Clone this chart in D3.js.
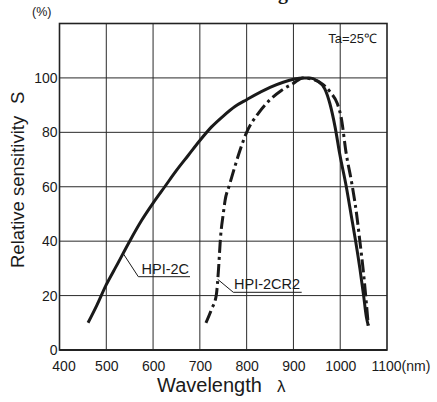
<!DOCTYPE html>
<html lang="en">
<head>
  <meta charset="UTF-8">
  <title>Relative sensitivity vs wavelength</title>
  <script src="https://cdn.jsdelivr.net/npm/d3@7/dist/d3.min.js"></script>
</head>
<style>
  body { margin: 0; background: #fff; }
  text { font-family: "Liberation Sans", Arial, sans-serif; fill: #1a1a1a; }
</style>
<body>
  <svg width="437" height="402"></svg>
</body>
<script>
  // data
  const wlTicks = [400, 500, 600, 700, 800, 900, 1000, 1100];
  const sensTicks = [0, 20, 40, 60, 80, 100];

  const hpi2cWl = [461, 480, 500, 522, 550, 575, 600, 625, 650, 675, 700, 725, 750, 775, 800, 850, 900, 920, 935, 950, 967, 978, 989, 999, 1013, 1024, 1033, 1042, 1050, 1056, 1060];
  const hpi2cS  = [10, 16.5, 24, 31, 40, 47.5, 54, 60, 66, 71.5, 77, 82, 86, 89.5, 92, 96.5, 99.5, 100, 100, 99, 96, 90.5, 82, 72, 60, 49, 40, 30, 20, 12, 9];

  const hpi2cr2Wl = [713, 725, 735, 740, 744, 750, 754, 763, 775, 786, 800, 825, 850, 875, 900, 920, 940, 960, 980, 994, 1002, 1013, 1024, 1035, 1042, 1050, 1056, 1060];
  const hpi2cr2S  = [10, 15, 20, 30, 41, 50, 55, 60.5, 67.5, 73.5, 80, 87, 92, 95.5, 98, 100, 99.5, 98, 94.5, 90.5, 85.5, 72, 62, 50, 40, 28, 17, 9];

  const svg = d3.select("svg");

  const xScale = d3.scaleLinear().domain([400, 1100]).range([59.5, 387]);
  const yScale = d3.scaleLinear().domain([0, 120]).range([350, 23.5]);

  // title, cut off at the top of the picture as in the source
  svg.append("text")
    .attr("x", 288).attr("y", -1)
    .attr("text-anchor", "end")
    .style("font-family", "'Liberation Serif', serif")
    .style("font-weight", "700")
    .style("font-size", "20px")
    .text("Sensor Rating");

  // grid
  const grid = svg.append("g").attr("stroke", "#2a2a2a").attr("stroke-width", 1);
  grid.selectAll(".vg")
    .data(wlTicks.slice(1, -1))
    .join("line")
    .attr("x1", d => xScale(d)).attr("x2", d => xScale(d))
    .attr("y1", yScale(120)).attr("y2", yScale(0));
  grid.selectAll(".hg")
    .data(sensTicks.slice(1))
    .join("line")
    .attr("x1", xScale(400)).attr("x2", xScale(1100))
    .attr("y1", d => yScale(d)).attr("y2", d => yScale(d));

  // frame
  svg.append("rect")
    .attr("x", xScale(400)).attr("y", yScale(120))
    .attr("width", xScale(1100) - xScale(400))
    .attr("height", yScale(0) - yScale(120))
    .attr("fill", "none").attr("stroke", "#222").attr("stroke-width", 1.6);
  svg.append("line")
    .attr("x1", xScale(400)).attr("x2", xScale(1100))
    .attr("y1", yScale(0)).attr("y2", yScale(0))
    .attr("stroke", "#222").attr("stroke-width", 2.2);

  // axis labels
  const xAxis = d3.axisBottom(xScale).tickValues(wlTicks).tickSize(0).tickPadding(8)
    .tickFormat(d => d === 1100 ? "1100(nm)" : d);
  const gx = svg.append("g").attr("transform", `translate(0,${yScale(0)})`).call(xAxis);
  gx.select(".domain").remove();
  gx.selectAll("text")
    .style("font-family", "'Liberation Sans', Arial, sans-serif")
    .style("font-size", "14px").attr("fill", "#1a1a1a")
    .attr("dy", "0.95em");
  gx.selectAll(".tick").filter(d => d === 1100).select("text")
    .attr("text-anchor", "start").attr("x", -16);
  gx.selectAll(".tick").filter(d => d === 400).select("text").attr("x", 4);

  const yAxis = d3.axisLeft(yScale).tickValues(sensTicks).tickSize(0).tickPadding(2);
  const gy = svg.append("g").attr("transform", `translate(${xScale(400)},0)`).call(yAxis);
  gy.select(".domain").remove();
  gy.selectAll("text")
    .style("font-family", "'Liberation Sans', Arial, sans-serif")
    .style("font-size", "14px").attr("fill", "#1a1a1a");

  svg.append("text").attr("x", 32).attr("y", 16).style("font-size", "12.5px").text("(%)");
  svg.append("text").attr("x", 377).attr("y", 43).attr("text-anchor", "end")
    .style("font-size", "13px").text("Ta=25℃");

  svg.append("text").attr("x", 157).attr("y", 391.5).style("font-size", "20px").text("Wavelength");
  svg.append("text").attr("x", 277).attr("y", 391.5).style("font-size", "17px").text("λ");

  svg.append("text").attr("transform", "translate(24,268) rotate(-90)")
    .style("font-size", "18.5px").text("Relative sensitivity");
  svg.append("text").attr("transform", "translate(24,104) rotate(-90)")
    .style("font-size", "18.5px").text("S");

  // curves
  const line = d3.line()
    .x(d => xScale(d[0]))
    .y(d => yScale(d[1]))
    .curve(d3.curveMonotoneX);

  svg.append("path")
    .datum(hpi2cWl.map((w, i) => [w, hpi2cS[i]]))
    .attr("d", line)
    .attr("fill", "none").attr("stroke", "#1a1a1a")
    .attr("stroke-width", 3).attr("stroke-linejoin", "round");

  svg.append("path")
    .datum(hpi2cr2Wl.map((w, i) => [w, hpi2cr2S[i]]))
    .attr("d", line)
    .attr("fill", "none").attr("stroke", "#1a1a1a")
    .attr("stroke-width", 3)
    .attr("stroke-dasharray", "13,4,3,4");

  // curve labels with leader lines
  const labels = [
    { name: "HPI-2C", at: [536, 35.5], knee: [138.3, 276.7], end: 190, tx: 141.5, ty: 274 },
    { name: "HPI-2CR2", at: [738, 26], knee: [233.3, 292.3], end: 301.7, tx: 234, ty: 288.5 }
  ];
  labels.forEach(l => {
    svg.append("polyline")
      .attr("points", [[xScale(l.at[0]), yScale(l.at[1])], l.knee, [l.end, l.knee[1]]].map(p => p.join(",")).join(" "))
      .attr("fill", "none").attr("stroke", "#1a1a1a").attr("stroke-width", 1);
    svg.append("text").attr("x", l.tx).attr("y", l.ty)
      .style("font-size", "14.5px").text(l.name);
  });
</script>
</html>
